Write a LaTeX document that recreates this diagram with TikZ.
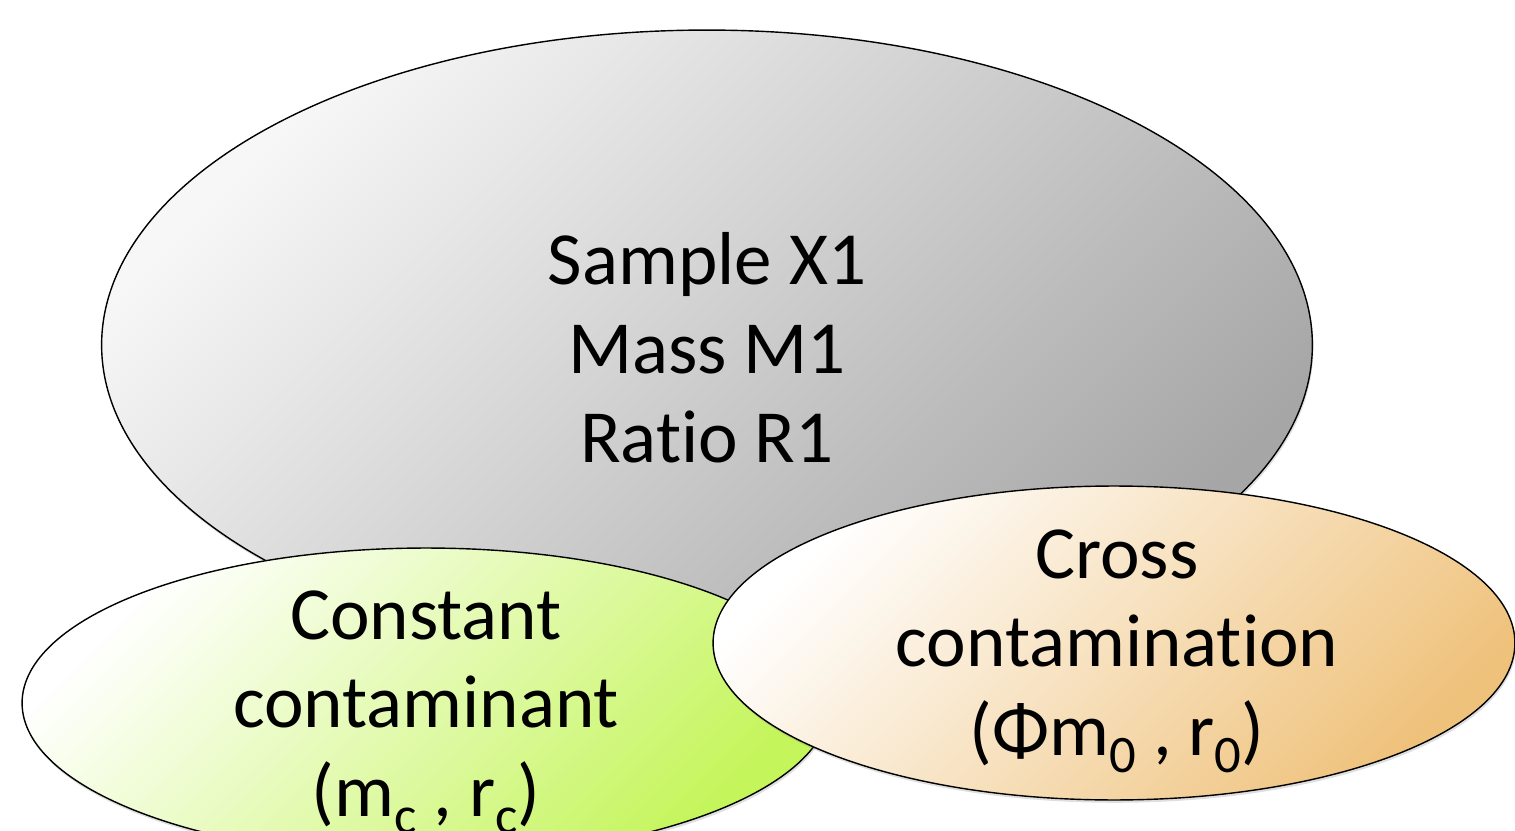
\documentclass[tikz,border=0pt]{standalone}
\usepackage{fontspec}
\setmainfont{Carlito}[Ligatures={NoCommon,NoContextual}]
\usetikzlibrary{shapes.geometric,shadows}

\definecolor{greyend}{HTML}{A6A6A6}
\definecolor{limeend}{HTML}{C4F55A}
\definecolor{tanend}{HTML}{EFC27C}
\newcommand{\lowsub}[1]{\raisebox{-0.22em}{\fontsize{30}{30}\selectfont #1}}

\begin{document}
\begin{tikzpicture}[x=0.02cm,y=-0.02cm]
\useasboundingbox (0,0) rectangle (1515,831);
\clip (0,0) rectangle (1515,831);

\begin{scope}[every node/.style={ellipse,draw=black,line width=0.8pt,inner sep=0pt,
              shading angle=45,
              drop shadow={shadow xshift=0.6pt,shadow yshift=-1.6pt,opacity=0.25}}]
    \node (S)[minimum width=24.22cm,minimum height=12.6cm,
              top color=white!97!black,bottom color=greyend,shading angle=45] at (707,345) {};
    \node (C)[minimum width=16.16cm,minimum height=6.2cm,
              top color=white,bottom color=limeend,shading angle=45] at (426,703) {};
    \node (X)[minimum width=16.04cm,minimum height=6.28cm,
              top color=white,bottom color=tanend,shading angle=45] at (1114,643) {};
\end{scope}

\begin{scope}[every node/.style={align=center,font=\fontsize{42.7}{50.6}\selectfont}]
    \node (St) at (707,348) {Sample X1\\Mass M1\\Ratio R1};
    \node (Ct) at (426,712) {Constant\\contaminant\\(m\lowsub{c} , r\lowsub{c})};
    \node (Xt) at (1117,651) {Cross\\contamination\\(Φm\lowsub{0} , r\lowsub{0})};
\end{scope}
\end{tikzpicture}
\end{document}
